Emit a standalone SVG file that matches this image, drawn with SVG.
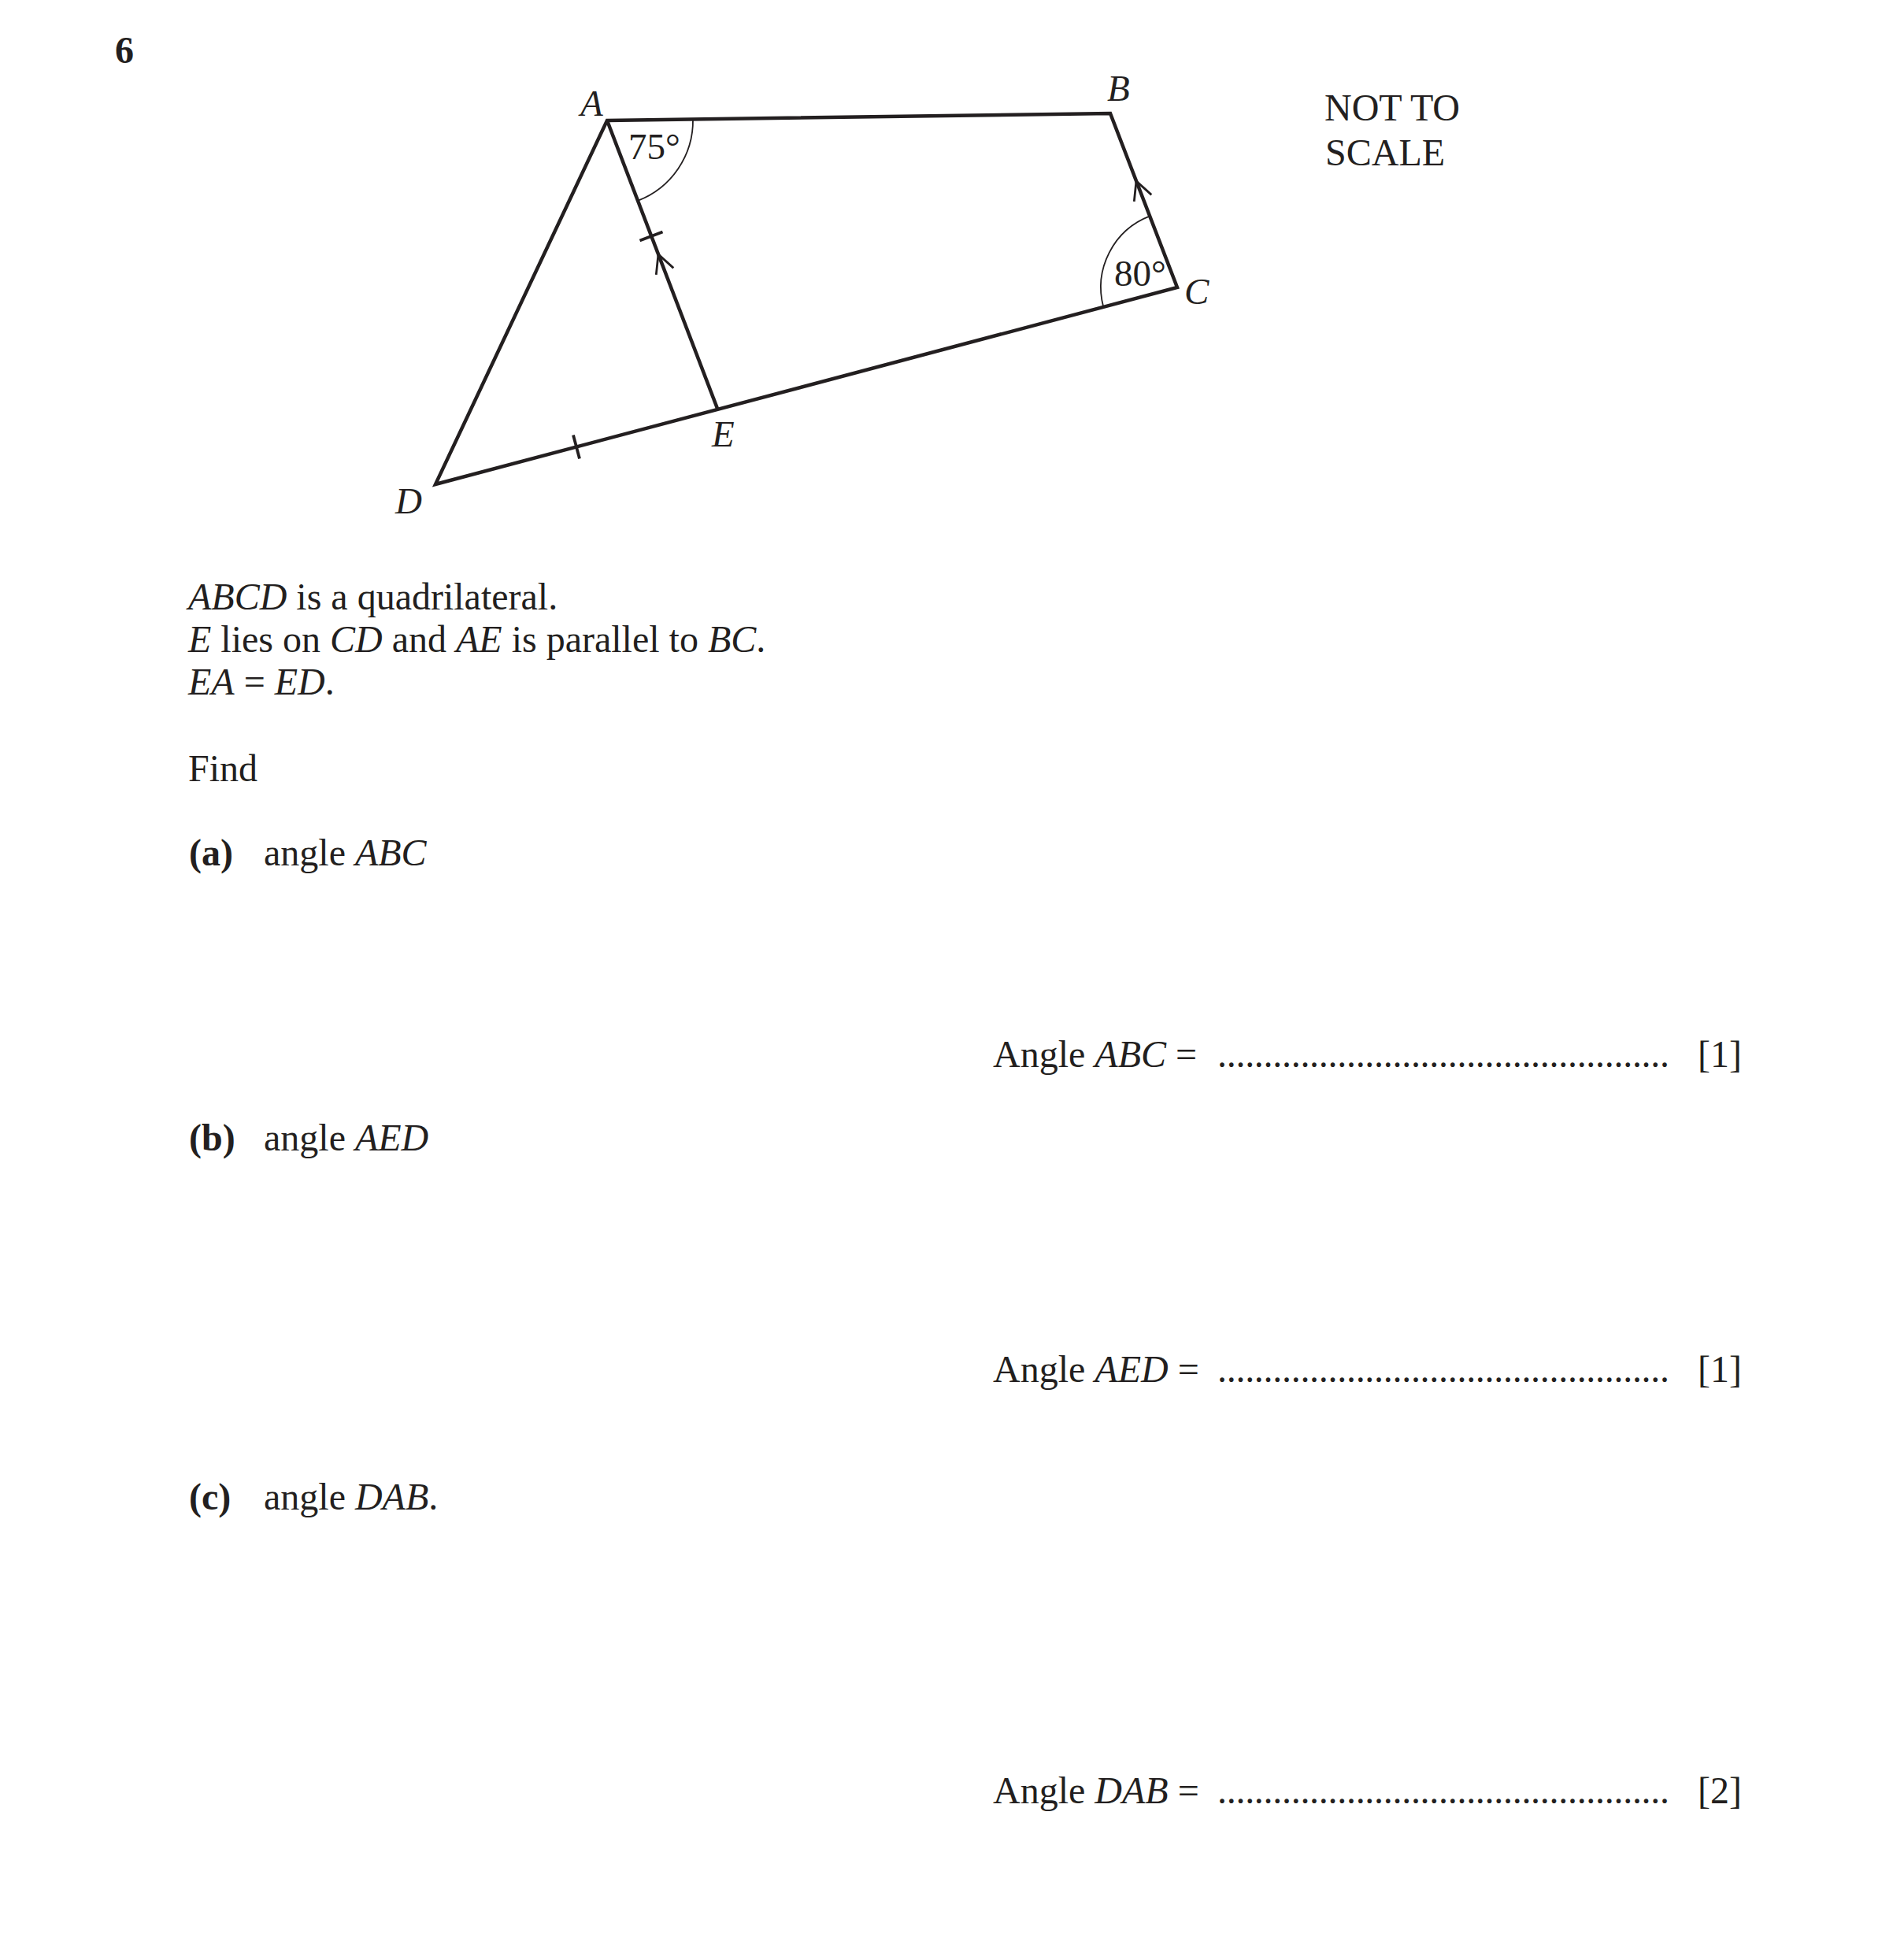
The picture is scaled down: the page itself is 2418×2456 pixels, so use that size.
<svg xmlns="http://www.w3.org/2000/svg" width="2418" height="2456" viewBox="0 0 2418 2456">
<style>
text{font-family:"Liberation Serif","Times New Roman",serif;font-size:48px;fill:#231f20}
.i{font-style:italic}
.b{font-weight:bold}
.lb{font-size:47px}
.ln{fill:none;stroke:#231f20;stroke-width:4.5;stroke-linejoin:miter;stroke-linecap:butt}
.thin{fill:none;stroke:#231f20;stroke-width:1.8}
.mk{fill:none;stroke:#231f20;stroke-width:3.8}
</style>
<rect width="2418" height="2456" fill="#fff"/>
<text class="b" x="146" y="80">6</text>
<g id="figure">
<polygon id="quad" class="ln" points="771,153 1410,144 1495,365 553,615"/>
<line id="AE" class="ln" x1="771" y1="153" x2="911.5" y2="520"/>
<path id="arcA" class="thin" d="M880,151.5 A109,109 0 0 1 810,254.8"/>
<path id="arcC" class="thin" d="M1460.3,274.4 A97,97 0 0 0 1401.3,389.9"/>
<line id="tickAE" class="mk" x1="812.5" y1="305.5" x2="841.5" y2="294.5"/>
<line id="tickDE" class="mk" x1="728" y1="552.5" x2="736" y2="582.5"/>
<polyline id="arrowAE" class="thin" style="stroke-width:2.8" points="833.3,348.9 836,323 855.3,340.4"/>
<polyline id="arrowBC" class="thin" style="stroke-width:2.8" points="1440.3,255.9 1443,230 1462.3,247.4"/>
</g>
<g id="labels">
<text class="i lb" x="737" y="147">A</text>
<text class="i lb" x="1406" y="128">B</text>
<text class="i lb" x="1504" y="386">C</text>
<text class="i lb" x="502" y="652">D</text>
<text class="i lb" x="904" y="567">E</text>
<text class="lb" x="798" y="202">75°</text>
<text class="lb" x="1415" y="363">80°</text>
<text x="1682" y="153">NOT TO</text>
<text x="1683" y="210">SCALE</text>
</g>
<g id="question">
<text x="239" y="774"><tspan class="i">ABCD</tspan> is a quadrilateral.</text>
<text x="239" y="828"><tspan class="i">E</tspan> lies on <tspan class="i">CD</tspan> and <tspan class="i">AE</tspan> is parallel to <tspan class="i">BC</tspan>.</text>
<text x="239" y="882"><tspan class="i">EA</tspan> = <tspan class="i">ED</tspan>.</text>
<text x="239" y="992">Find</text>
<text class="b" x="240" y="1099">(a)</text>
<text x="335" y="1099">angle <tspan class="i">ABC</tspan></text>
<text x="1261" y="1355">Angle <tspan class="i">ABC</tspan> =</text>
<text x="1546" y="1355" textLength="574" lengthAdjust="spacing">.................................................</text>
<text x="2156" y="1355">[1]</text>
<text class="b" x="240" y="1461">(b)</text>
<text x="335" y="1461">angle <tspan class="i">AED</tspan></text>
<text x="1261" y="1755">Angle <tspan class="i">AED</tspan> =</text>
<text x="1546" y="1755" textLength="574" lengthAdjust="spacing">.................................................</text>
<text x="2156" y="1755">[1]</text>
<text class="b" x="240" y="1917">(c)</text>
<text x="335" y="1917">angle <tspan class="i">DAB</tspan>.</text>
<text x="1261" y="2290">Angle <tspan class="i">DAB</tspan> =</text>
<text x="1546" y="2290" textLength="574" lengthAdjust="spacing">.................................................</text>
<text x="2156" y="2290">[2]</text>
</g>
</svg>
